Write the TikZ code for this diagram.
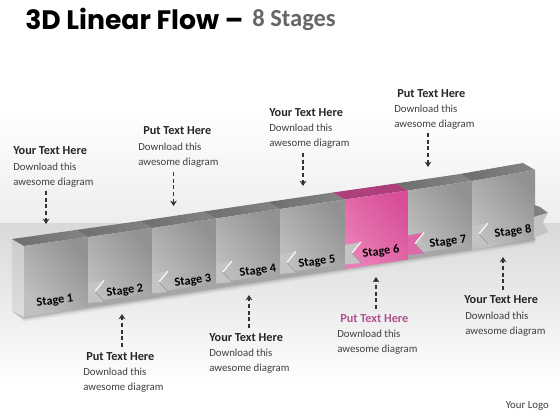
\documentclass[tikz,border=0pt]{standalone}
\usepackage{fontspec}
\setmainfont{Carlito}
\newfontfamily\titlefont{Poppins}[BoldFont={* Bold}]
\definecolor{bodyc}{HTML}{404040}
\definecolor{pinkhead}{HTML}{B0508C}
\definecolor{gd}{HTML}{929292}
\definecolor{gl}{HTML}{C0C0C0}
\definecolor{pd}{HTML}{D84F98}
\definecolor{pl}{HTML}{EA7FB6}
\tikzset{
  head/.style={font=\fontsize{9.2pt}{10pt}\selectfont\bfseries,anchor=west,inner sep=0pt,text=black!85,yshift=-0.4pt},
  bodytxt/.style={font=\fontsize{8.1pt}{11.2pt}\selectfont,anchor=north west,inner sep=0pt,align=left,text=bodyc,yshift=-1.8pt},
  stagelabel/.style={font=\fontsize{9.2pt}{10pt}\selectfont\bfseries,inner sep=0pt,rotate=8,text=black},
  flowarrow/.style={densely dashed,line width=0.8pt,draw=black!80,-{Stealth[length=4pt,width=5pt]}},
}
\usetikzlibrary{arrows.meta}
\begin{document}
\begin{tikzpicture}[x=0.75pt,y=-0.75pt]
\useasboundingbox (0,0) rectangle (560,420);
% background
\fill[white] (0,0) rectangle (560,420);
\shade[top color=white,bottom color=black!7] (0,110) rectangle (560,224);
\shade[top color=black!15,bottom color=white] (0,224) rectangle (560,385);
% ground shadow
\foreach \o/\op in {5/0.03,4/0.04,3/0.05,2/0.07,1/0.09}{
  \fill[black,opacity=\op] (13,312) -- (24,{317+\o}) -- (535,{239+\o}) -- (535,235) -- (24,312) -- cycle;
}
% side face
\shade[top color=black!20,bottom color=black!13] (12,239) -- (24,246) -- (24,317) -- (12,311) -- cycle;
% top faces and panels
\foreach \i/\xa/\xb/\ta/\tb/\ba/\bb in {1/24/88/246/237/317/307.5,2/88/152/237/228/307.5/298,3/152/216/228/218.5/298/288,4/216/280/218.5/209/288/278.5,5/280/345/209/199.5/278.5/269,6/345/408/199.5/190.5/269/259.5,7/408/472/190.5/181/259.5/250,8/472/535/181/170/250/239}{
  \ifnum\i=6
    \fill[pd!80!black] (\xa,\ta) -- (\xb,\tb) -- (\xb-12,\tb-7) -- (\xa-12,\ta-7) -- cycle;
    \shade[left color=pd,right color=pl,shading angle=-50] (\xa,\ta) -- (\xb,\tb) -- (\xb,\bb) -- (\xa,\ba) -- cycle;
  \else
    \shade[left color=black!57,right color=black!48] (\xa,\ta) -- (\xb,\tb) -- (\xb-12,\tb-7) -- (\xa-12,\ta-7) -- cycle;
    \shade[left color=gd,right color=gl,shading angle=-50] (\xa,\ta) -- (\xb,\tb) -- (\xb,\bb) -- (\xa,\ba) -- cycle;
  \fi
}
% lower strips
\foreach \xa/\xb/\ba/\bb in {88/152/307.5/298,152/216/298/288,216/280/288/278.5,280/345/278.5/269,408/472/259.5/250}{
  \fill[black!35] (\xa,\ba-5) -- (\xb,\bb-5) -- (\xb,\bb) -- (\xa,\ba) -- cycle;
}
% swallow tails
\foreach \x/\b/\c in {88/307.5/black!23,152/298/black!23,216/288/black!23,280/278.5/black!23,345/269/black!23,408/259.5/pd!85!white,472/250/black!23}{
  \fill[\c] (\x,\b-24) -- (\x+16,\b-27) -- (\x+7,\b-16) -- (\x+16,\b-6) -- (\x,\b-4.5) -- cycle;
  \draw[black!40,line width=0.5pt] (\x+7,\b-16) -- (\x+16,\b-6);
  \draw[white,line width=0.8pt] (\x+7,\b-16) -- (\x+16,\b-27);
}
% end ribbon
\fill[black!50] (534,205) -- (540,207) -- (548,213) -- (534,217) -- cycle;
\fill[black!23] (534,217) -- (548,213) -- (543,222) -- (548,232) -- (534,238) -- cycle;
% stage labels
\node[stagelabel] (s1) at (55,301) {Stage 1};
\node[stagelabel] (s2) at (125,291) {Stage 2};
\node[stagelabel] (s3) at (193,281) {Stage 3};
\node[stagelabel] (s4) at (258,271) {Stage 4};
\node[stagelabel] (s5) at (317,262) {Stage 5};
\node[stagelabel] (s6) at (381,252) {Stage 6};
\node[stagelabel] (s7) at (448,242) {Stage 7};
\node[stagelabel] (s8) at (513,232) {Stage 8};
% title
\node[anchor=west,inner sep=0pt,font=\titlefont\fontsize{20pt}{22pt}\selectfont\bfseries] (title) at (25,19) {3D Linear Flow \textendash};
\node[anchor=west,inner sep=0pt,font=\fontsize{18.4pt}{20pt}\selectfont\bfseries,text=black!60] (subtitle) at (252,20) {8 Stages};
% upper captions
\node[head] (h1) at (13,150) {Your Text Here};
\node[bodytxt] (b1) at (13,160) {Download this\\awesome diagram};
\node[head] (h2) at (143,130) {Put Text Here};
\node[bodytxt] (b2) at (138,140) {Download this\\awesome diagram};
\node[head] (h3) at (269,112) {Your Text Here};
\node[bodytxt] (b3) at (269,121) {Download this\\awesome diagram};
\node[head] (h4) at (397,93) {Put Text Here};
\node[bodytxt] (b4) at (394,102) {Download this\\awesome diagram};
% lower captions
\node[head] (h5) at (86,356) {Put Text Here};
\node[bodytxt] (b5) at (83,365) {Download this\\awesome diagram};
\node[head] (h6) at (209,337) {Your Text Here};
\node[bodytxt] (b6) at (209,346) {Download this\\awesome diagram};
\node[head,text=pinkhead] (h7) at (340,318) {Put Text Here};
\node[bodytxt] (b7) at (337,327) {Download this\\awesome diagram};
\node[head] (h8) at (464,299) {Your Text Here};
\node[bodytxt] (b8) at (465,309) {Download this\\awesome diagram};
\node[anchor=east,inner sep=0pt,font=\fontsize{8.1pt}{10pt}\selectfont,text=bodyc] (logo) at (549,406) {Your Logo};
% arrows
\coordinate (a1s) at (46,191); \coordinate (a1e) at (46,224);
\coordinate (a2s) at (173.5,172); \coordinate (a2e) at (173.5,206);
\coordinate (a3s) at (303,153); \coordinate (a3e) at (303,186);
\coordinate (a4s) at (428,133); \coordinate (a4e) at (428,167);
\coordinate (a5s) at (122,347); \coordinate (a5e) at (122,314);
\coordinate (a6s) at (249,328); \coordinate (a6e) at (249,295);
\coordinate (a7s) at (376,309); \coordinate (a7e) at (376,277);
\coordinate (a8s) at (503,290); \coordinate (a8e) at (503,257);
\foreach \n in {1,...,8}{\draw[flowarrow] (a\n s) -- (a\n e);}
\end{tikzpicture}
\end{document}
